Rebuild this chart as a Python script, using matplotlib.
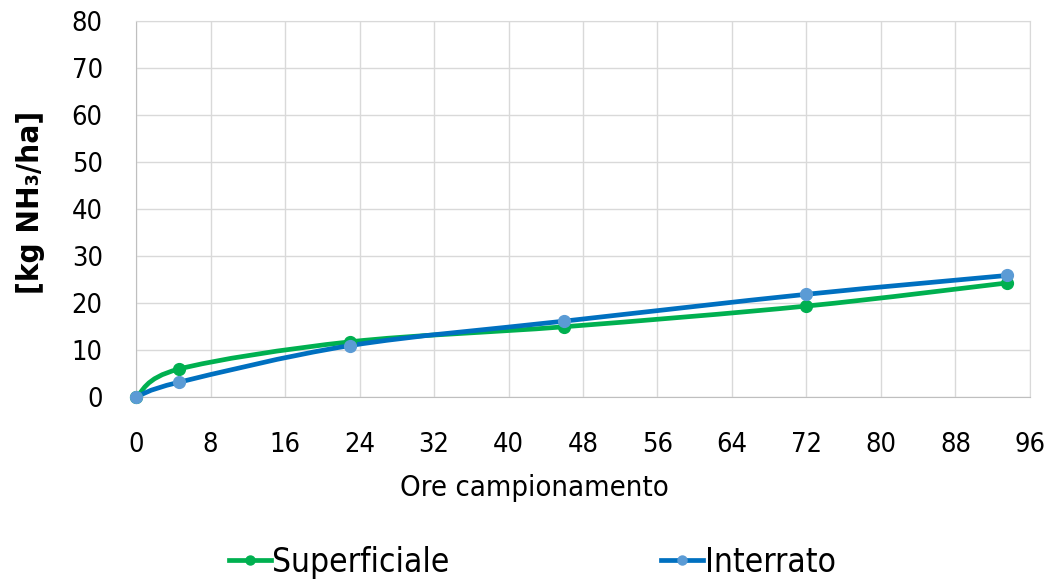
import matplotlib.pyplot as plt
from matplotlib.path import Path
from matplotlib.patches import PathPatch
from matplotlib.lines import Line2D

# Emissioni cumulate di ammoniaca
ore = [0, 4.6, 23, 46, 72, 93.5]
superficiale = [0, 6.0, 11.8, 15.0, 19.4, 24.3]
interrato = [0, 3.2, 11.0, 16.2, 21.9, 25.9]

verde = "#00B050"
blu = "#0070C0"
blu_chiaro = "#5B9BD5"

plt.rcParams['font.family'] = ['DejaVu Sans']
plt.rcParams['font.stretch'] = 'condensed'


def curva_smussata(x, y):
    # bezier tipo Catmull-Rom (linea smussata)
    pts = list(zip(x, y))
    n = len(pts)
    verts = [pts[0]]
    codes = [Path.MOVETO]
    for i in range(n - 1):
        p0 = pts[i - 1] if i > 0 else pts[i]
        p1 = pts[i]
        p2 = pts[i + 1]
        p3 = pts[i + 2] if i + 2 < n else pts[i + 1]
        c1 = (p1[0] + (p2[0] - p0[0]) / 6, p1[1] + (p2[1] - p0[1]) / 6)
        c2 = (p2[0] - (p3[0] - p1[0]) / 6, p2[1] - (p3[1] - p1[1]) / 6)
        verts += [c1, c2, p2]
        codes += [Path.CURVE4] * 3
    return Path(verts, codes)


fig = plt.figure(figsize=(10.48, 5.83), dpi=100)
ax = fig.add_axes([0.1298, 0.3185, 0.853, 0.6455])

for y, col, colm in [(superficiale, verde, verde), (interrato, blu, blu_chiaro)]:
    ax.add_patch(PathPatch(curva_smussata(ore, y), fill=False, edgecolor=col,
                           lw=3.4, capstyle='round', joinstyle='round', zorder=3))
    ax.plot(ore, y, linestyle='none', marker='o', ms=8.5, color=colm, zorder=4,
            clip_on=False)

ax.set_xlim(0, 96)
ax.set_ylim(0, 80)
ax.set_xticks(range(0, 97, 8))
ax.set_yticks(range(0, 81, 10))
ax.grid(True, color="#D9D9D9", lw=1)
ax.set_axisbelow(True)
for s in ax.spines.values():
    s.set_color("#D9D9D9")
ax.spines['left'].set_color("#BFBFBF")
ax.spines['bottom'].set_color("#BFBFBF")
ax.tick_params(length=0, labelsize=19.5, colors="black")
ax.tick_params(axis='x', pad=25)
ax.tick_params(axis='y', pad=24)

ax.set_xlabel("Ore campionamento", fontsize=21, va='center')
ax.xaxis.set_label_coords(0.446, -0.242)
ax.set_ylabel("[kg NH₃/ha]", fontsize=22.5, fontweight='bold', va='center')
ax.yaxis.set_label_coords(-0.118, 0.519)

maniglie = [Line2D([], [], color=verde, lw=3.4, marker='o', ms=6.5),
            Line2D([], [], color=blu, lw=3.4, marker='o', ms=6.5,
                   markerfacecolor=blu_chiaro, markeredgecolor=blu_chiaro)]
fig.legend(maniglie, ["Superficiale", "Interrato"], loc='center',
           bbox_to_anchor=(0.508, 0.036), ncol=2, frameon=False, fontsize=24,
           handlelength=1.25, handletextpad=0.05, columnspacing=6.35)

plt.savefig("out.png", dpi=100)
